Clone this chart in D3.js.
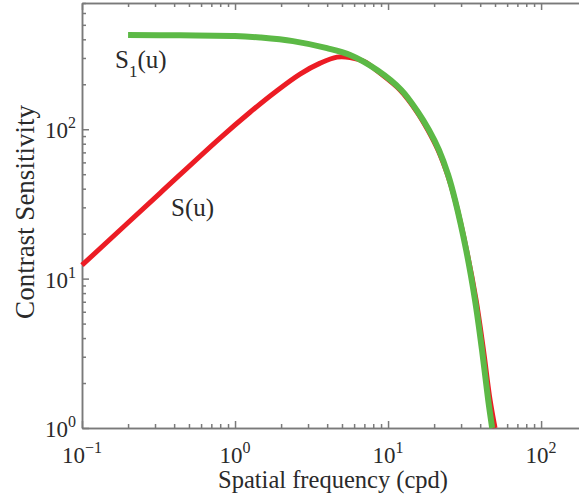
<!DOCTYPE html>
<html>
<head>
<meta charset="utf-8">
<script src="https://cdn.jsdelivr.net/npm/d3@7"></script>
<style>
    html, body { margin: 0; padding: 0; background: #fff; overflow: hidden; }
    svg { display: block; }
    .axis path, .axis line { stroke: #7a7a7a; stroke-width: 1.5; }
    text { font-family: "Liberation Serif", "Times New Roman", serif; fill: #2a2a2a; }
</style>
</head>
<body>
<div id="graphDiv"></div>
<script>
// S(u) - red curve
var freqS = [0.1, 0.324, 0.798, 1.253, 1.824, 2.66, 3.60, 4.64, 5.65, 7.08, 8.47, 11.97, 15.5, 18.2, 21.2, 24.5, 27.4, 32.6, 37.6, 42.0, 46.4, 50.0];
var sensS = [12.3, 37.4, 87.3, 130, 177, 234, 277, 304, 302, 282, 246, 183, 130, 98.8, 72.6, 49.4, 33.6, 15.5, 7.19, 3.33, 1.54, 1.0];

// S1(u) - green curve
var freqS1 = [0.2, 0.437, 1.0, 1.46, 2.39, 3.99, 5.65, 8.47, 12.2, 15.7, 18.5, 21.5, 24.7, 27.4, 32.4, 37.0, 41.1, 45.1, 47.9];
var sensS1 = [427, 425, 421, 411, 389, 349, 314, 249, 183, 130, 98.8, 72.6, 49.4, 33.6, 15.5, 7.19, 3.33, 1.54, 1.0];

// tick labels
var xTickExp = ["\u22121", "0", "1", "2"];
var yTickExp = ["0", "1", "2"];

(function () {
    var W = 579, H = 504;
    var left = 82, top = 3, bottom = 428, right = 587;

    var svg = d3.select("#graphDiv").append("svg")
        .attr("width", W)
        .attr("height", H);

    var xScale = d3.scaleLog().domain([0.1, Math.pow(10, 2.3)]).range([left, right]);
    var yScale = d3.scaleLog().domain([1, 700]).range([bottom, top]);

    // minor/major tick values
    var xMajor = [0.1, 1, 10, 100], xMinor = [];
    [0.1, 1, 10, 100].forEach(function (d) {
        for (var k = 2; k <= 9; k++) if (d * k <= Math.pow(10, 2.3)) xMinor.push(d * k);
    });
    var yMajor = [1, 10, 100], yMinor = [];
    [1, 10, 100].forEach(function (d) {
        for (var k = 2; k <= 9; k++) if (d * k <= 700) yMinor.push(d * k);
    });

    // axes - ticks point inward
    function addAxis(axisFn, scale, transform, vals, size) {
        svg.append("g")
            .attr("class", "axis")
            .attr("transform", transform)
            .call(axisFn(scale).tickValues(vals).tickSizeInner(size).tickSizeOuter(0).tickFormat(""));
    }
    addAxis(d3.axisBottom, xScale, "translate(0," + bottom + ")", xMinor, -4);
    addAxis(d3.axisBottom, xScale, "translate(0," + bottom + ")", xMajor, -7);
    addAxis(d3.axisTop, xScale, "translate(0," + top + ")", xMinor, -4);
    addAxis(d3.axisTop, xScale, "translate(0," + top + ")", xMajor, -7);
    addAxis(d3.axisLeft, yScale, "translate(" + left + ",0)", yMinor, -4);
    addAxis(d3.axisLeft, yScale, "translate(" + left + ",0)", yMajor, -7);
    svg.selectAll(".axis .tick text").remove();

    // tick labels 10^n
    xMajor.forEach(function (d, i) {
        var t = svg.append("text")
            .attr("x", xScale(d))
            .attr("y", 463)
            .attr("text-anchor", "middle")
            .style("font-size", "23px");
        t.append("tspan").text("10");
        t.append("tspan").attr("dy", -10).style("font-size", "16px").text(xTickExp[i]);
    });
    yMajor.forEach(function (d, i) {
        var t = svg.append("text")
            .attr("x", 76)
            .attr("y", yScale(d) + 9)
            .attr("text-anchor", "end")
            .style("font-size", "23px");
        t.append("tspan").text("10");
        t.append("tspan").attr("dy", -10).style("font-size", "16px").text(yTickExp[i]);
    });

    // axis titles
    svg.append("text")
        .attr("x", 333)
        .attr("y", 488)
        .attr("text-anchor", "middle")
        .style("font-size", "24.5px")
        .text("Spatial frequency (cpd)");
    svg.append("text")
        .attr("transform", "translate(34,212) rotate(-90)")
        .attr("text-anchor", "middle")
        .style("font-size", "27px")
        .text("Contrast Sensitivity");

    // curves
    var lineFunc = d3.line()
        .curve(d3.curveCatmullRom.alpha(0.5))
        .x(function (d) { return xScale(d[0]); })
        .y(function (d) { return yScale(d[1]); });

    svg.append("path")
        .attr("fill", "none")
        .attr("stroke", "#ec1c24")
        .attr("stroke-width", 5)
        .attr("d", lineFunc(d3.zip(freqS, sensS)));
    svg.append("path")
        .attr("fill", "none")
        .attr("stroke", "#5cb946")
        .attr("stroke-width", 6)
        .attr("d", lineFunc(d3.zip(freqS1, sensS1)));

    // curve labels
    var l1 = svg.append("text")
        .attr("x", 115)
        .attr("y", 68)
        .style("font-size", "25px");
    l1.append("tspan").text("S");
    l1.append("tspan").attr("dy", 9).style("font-size", "17px").text("1");
    l1.append("tspan").attr("dy", -9).text("(u)");

    svg.append("text")
        .attr("x", 171)
        .attr("y", 216)
        .style("font-size", "25px")
        .text("S(u)");
})();
</script>
</body>
</html>
